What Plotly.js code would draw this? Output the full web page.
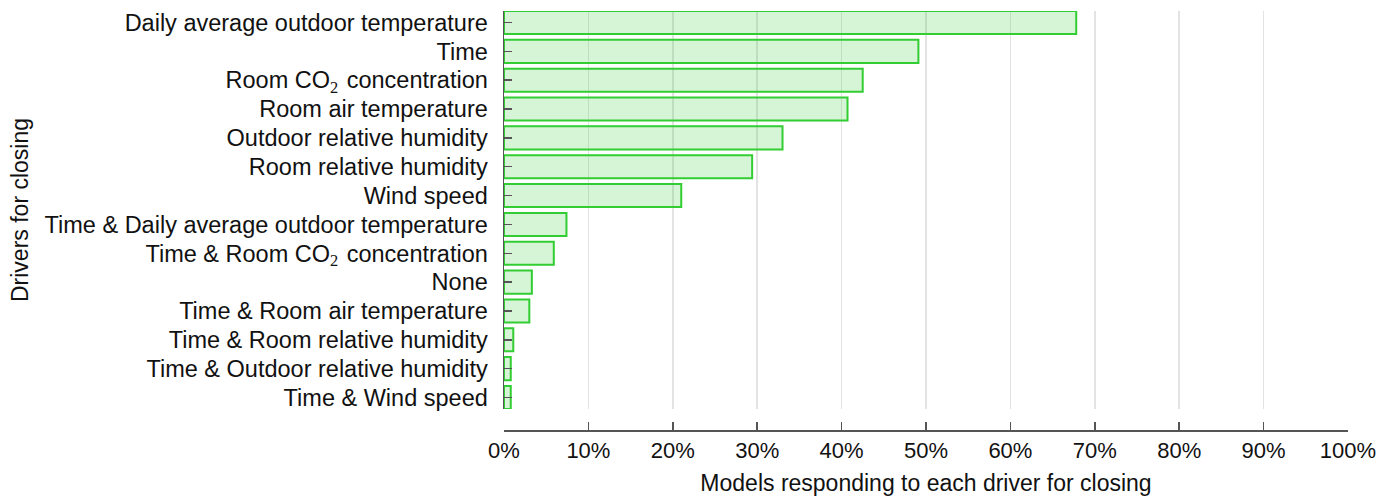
<!DOCTYPE html>
<html>
<head>
<meta charset="utf-8">
<script src="https://cdn.plot.ly/plotly-3.0.1.min.js"></script>
<style>
  html, body { margin: 0; padding: 0; background: #fff; }
  #chart { width: 1390px; height: 497px; }
</style>
</head>
<body>
<div id="chart"></div>
<script>
// Drivers for window closing, top to bottom
const sub2 = '<sub><span style="font-family:\'Liberation Serif\', serif">2</span></sub>';
const drivers = [
  'Daily average outdoor temperature',
  'Time',
  'Room CO' + sub2 + '\u200A concentration',
  'Room air temperature',
  'Outdoor relative humidity',
  'Room relative humidity',
  'Wind speed',
  'Time & Daily average outdoor temperature',
  'Time & Room CO' + sub2 + '\u200A concentration',
  'None',
  'Time & Room air temperature',
  'Time & Room relative humidity',
  'Time & Outdoor relative humidity',
  'Time & Wind speed'
];

// Share of models (%) responding to each driver
const sharePct = [67.8, 49.1, 42.5, 40.7, 33.0, 29.4, 21.0, 7.4, 5.9, 3.3, 3.0, 1.1, 0.8, 0.8];

const xTicks = [0, 10, 20, 30, 40, 50, 60, 70, 80, 90, 100];

const font = "'Liberation Sans', Arial, sans-serif";
const axisColor = '#555555';

const trace = {
  type: 'bar',
  orientation: 'h',
  x: sharePct,
  y: drivers,
  width: 0.8,
  marker: {
    color: 'rgba(50,205,50,0.2)',
    line: { color: 'rgb(50,205,50)', width: 2 }
  },
  hoverinfo: 'x+y'
};

const layout = {
  width: 1390,
  height: 497,
  margin: { l: 504, r: 42, t: 11, b: 67 },
  paper_bgcolor: '#ffffff',
  plot_bgcolor: 'rgba(0,0,0,0)',
  showlegend: false,
  font: { family: font, color: '#111111', size: 23 },
  bargap: 0.2,
  xaxis: {
    range: [0, 100],
    tickvals: xTicks,
    ticktext: xTicks.map(v => v + '%'),
    anchor: 'free',
    position: 0,
    showline: true,
    linecolor: axisColor,
    linewidth: 1.5,
    ticks: 'inside',
    ticklen: 8,
    tickwidth: 1.5,
    tickcolor: axisColor,
    showgrid: true,
    gridcolor: '#e3e3e3',
    gridwidth: 1.5,
    zeroline: false,
    tickfont: { family: font, size: 22, color: '#111111' },
    title: {
      text: 'Models responding to each driver for closing',
      font: { family: font, size: 23, color: '#111111' },
      standoff: 13
    },
    automargin: false,
    fixedrange: true
  },
  yaxis: {
    domain: [0.0501, 1],
    range: [13.4, -0.4],
    type: 'category',
    showline: true,
    linecolor: axisColor,
    linewidth: 1.5,
    ticks: 'inside',
    ticklen: 8,
    tickwidth: 1.5,
    tickcolor: axisColor,
    showgrid: false,
    zeroline: false,
    ticklabelstandoff: 10,
    tickfont: { family: font, size: 23.5, color: '#111111' },
    title: {
      text: 'Drivers for closing',
      font: { family: font, size: 23, color: '#111111' },
      standoff: 9
    },
    automargin: false,
    fixedrange: true
  }
};

Plotly.newPlot('chart', [trace], layout, { displayModeBar: false, staticPlot: true });
</script>
</body>
</html>
